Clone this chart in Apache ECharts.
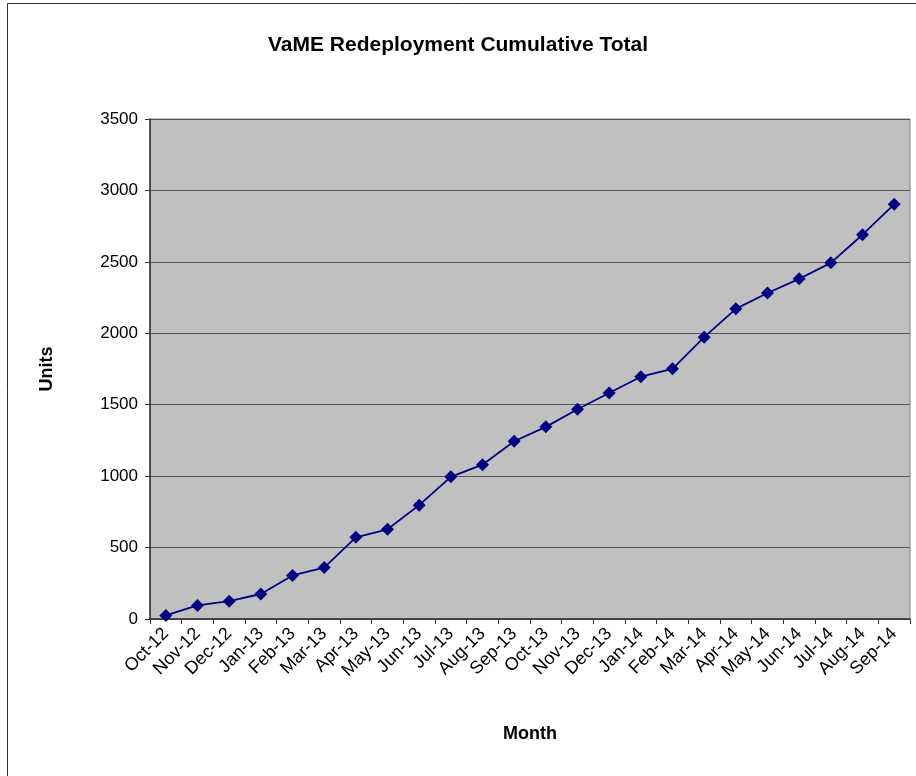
<!DOCTYPE html>
<html>
<head>
<meta charset="utf-8">
<script src="https://cdn.jsdelivr.net/npm/echarts@6/dist/echarts.min.js"></script>
<style>
  html, body { margin: 0; padding: 0; background: #fff; }
  #main { width: 916px; height: 776px; }
</style>
</head>
<body>
<div id="main"></div>
<script>
var months = ['Oct-12', 'Nov-12', 'Dec-12', 'Jan-13', 'Feb-13', 'Mar-13', 'Apr-13', 'May-13',
  'Jun-13', 'Jul-13', 'Aug-13', 'Sep-13', 'Oct-13', 'Nov-13', 'Dec-13', 'Jan-14',
  'Feb-14', 'Mar-14', 'Apr-14', 'May-14', 'Jun-14', 'Jul-14', 'Aug-14', 'Sep-14'];
var units = [25, 95, 125, 175, 305, 360, 572, 628, 797, 995, 1080, 1244,
  1345, 1468, 1582, 1696, 1751, 1973, 2171, 2282, 2381, 2493, 2690, 2903];
var yTicks = [0, 500, 1000, 1500, 2000, 2500, 3000, 3500];

var myChart = echarts.init(document.getElementById('main'));
var font = 'Liberation Sans, Arial, sans-serif';

var option = {
  animation: false,
  backgroundColor: '#fff',
  title: {
    text: 'VaME Redeployment Cumulative Total',
    left: 'center',
    top: 30,
    textStyle: { fontFamily: font, fontSize: 21, fontWeight: 'bold', color: '#000' }
  },
  graphic: [{
    type: 'rect',
    shape: { x: 7.5, y: 3.5, width: 1000, height: 1000 },
    style: { fill: 'none', stroke: '#333', lineWidth: 1 },
    silent: true
  }],
  grid: {
    left: 150, top: 119, right: 6, bottom: 157,
    show: true,
    backgroundColor: '#c0c0c0',
    borderColor: '#808080',
    borderWidth: 1
  },
  xAxis: {
    type: 'category',
    data: months,
    boundaryGap: true,
    name: 'Month',
    nameLocation: 'middle',
    nameGap: 106,
    nameTextStyle: { fontFamily: font, fontSize: 18, fontWeight: 'bold', color: '#000' },
    axisLine: { lineStyle: { color: '#333', width: 1.5 } },
    axisTick: { show: true, alignWithLabel: false, length: 5, lineStyle: { color: '#333' } },
    axisLabel: {
      interval: 0,
      rotate: 45,
      margin: 12,
      fontFamily: font,
      fontSize: 18,
      color: '#000'
    },
    splitLine: { show: false }
  },
  yAxis: {
    type: 'value',
    min: yTicks[0],
    max: yTicks[yTicks.length - 1],
    interval: yTicks[1] - yTicks[0],
    name: 'Units',
    nameLocation: 'middle',
    nameGap: 94,
    nameRotate: 90,
    nameTextStyle: { fontFamily: font, fontSize: 18, fontWeight: 'bold', color: '#000' },
    axisLine: { show: true, lineStyle: { color: '#333', width: 1.5 } },
    axisTick: { show: true, length: 5, lineStyle: { color: '#333' } },
    axisLabel: {
      fontFamily: font, fontSize: 17, color: '#000', margin: 12,
      formatter: function (v) { return String(v); }
    },
    splitLine: { show: true, lineStyle: { color: '#555', width: 1 } }
  },
  series: [{
    type: 'line',
    data: units,
    symbol: 'diamond',
    symbolSize: 13,
    lineStyle: { color: '#000080', width: 1.8 },
    itemStyle: { color: '#000080' }
  }]
};

myChart.setOption(option);
</script>
</body>
</html>
